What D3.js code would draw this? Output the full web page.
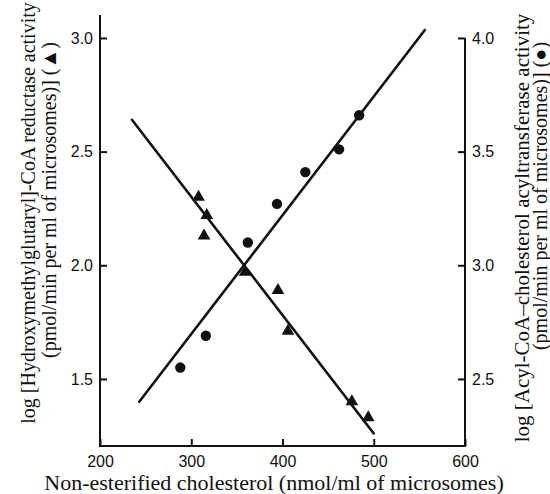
<!DOCTYPE html>
<html>
<head>
<meta charset="utf-8">
<script src="https://cdn.jsdelivr.net/npm/d3@7"></script>
<style>
body{margin:0;background:#fff;}
.tick text{font-family:"Liberation Sans",Arial,sans-serif;font-size:16px;fill:#111;}
.title{font-family:"Liberation Serif","Times New Roman",serif;fill:#111;}
</style>
</head>
<body>
<div id="chart"></div>
<script>
// HMG-CoA reductase (triangles, left axis)
const redX=[308,317,314,359,395,406,476,494];
const redY=[2.30,2.22,2.13,1.97,1.89,1.71,1.40,1.33];
// ACAT (circles, right axis)
const acatX=[288,316,362,394,425,462,484];
const acatY=[2.55,2.69,3.10,3.27,3.41,3.51,3.66];
// fitted lines: [x, y] end points
const redLine=[[235,2.64],[500,1.26]];
const acatLine=[[243,2.40],[556,4.035]];
const xTicks=[200,300,400,500,600];
const leftTicks=[1.5,2.0,2.5,3.0];
const rightTicks=[2.5,3.0,3.5,4.0];

const width=550,height=494;
const svg=d3.select("#chart").append("svg")
    .attr("width",width)
    .attr("height",height);

const x=d3.scaleLinear().domain([200,600]).range([100,465]);
const yL=d3.scaleLinear().domain([1.205,3.101]).range([446,15]);
const yR=d3.scaleLinear().domain([2.205,4.101]).range([446,15]);

// bottom axis
const xAxis=svg.append("g")
    .attr("transform","translate(0,446)")
    .call(d3.axisBottom(x).tickValues(xTicks).tickFormat(d3.format("d"))
        .tickSizeInner(-7).tickSizeOuter(0).tickPadding(10));
xAxis.select(".domain").remove();
xAxis.selectAll("line").attr("stroke","#111").attr("stroke-width",2);

// left axis
const lAxis=svg.append("g")
    .attr("transform","translate(100,0)")
    .call(d3.axisLeft(yL).tickValues(leftTicks).tickFormat(d3.format(".1f"))
        .tickSizeInner(-7).tickSizeOuter(0).tickPadding(7));
lAxis.select(".domain").remove();
lAxis.selectAll("line").attr("stroke","#111").attr("stroke-width",2);

// right axis
const rAxis=svg.append("g")
    .attr("transform","translate(465,0)")
    .call(d3.axisRight(yR).tickValues(rightTicks).tickFormat(d3.format(".1f"))
        .tickSizeInner(-7).tickSizeOuter(0).tickPadding(7));
rAxis.select(".domain").remove();
rAxis.selectAll("line").attr("stroke","#111").attr("stroke-width",2);

// frame lines
const frame=svg.append("g").attr("stroke","#111").attr("stroke-width",2).attr("fill","none");
frame.append("path").attr("d",`M100,${yL(3.101)}V446H465V${yR(4.0)}`);

// fitted lines
const line=svg.append("g").attr("stroke","#111").attr("stroke-width",2.6).attr("stroke-linecap","round");
line.append("line")
    .attr("x1",x(redLine[0][0])).attr("y1",yL(redLine[0][1]))
    .attr("x2",x(redLine[1][0])).attr("y2",yL(redLine[1][1]));
line.append("line")
    .attr("x1",x(acatLine[0][0])).attr("y1",yR(acatLine[0][1]))
    .attr("x2",x(acatLine[1][0])).attr("y2",yR(acatLine[1][1]));

// triangles
svg.append("g").selectAll("path")
    .data(redX.map((d,i)=>[d,redY[i]]))
    .join("path")
    .attr("d",d3.symbol(d3.symbolTriangle,70))
    .attr("transform",d=>`translate(${x(d[0])},${yL(d[1])})`)
    .attr("fill","#111");

// circles
svg.append("g").selectAll("circle")
    .data(acatX.map((d,i)=>[d,acatY[i]]))
    .join("circle")
    .attr("cx",d=>x(d[0]))
    .attr("cy",d=>yR(d[1]))
    .attr("r",5.2)
    .attr("fill","#111");

// titles
svg.append("text").attr("class","title")
    .attr("x",274).attr("y",490)
    .attr("text-anchor","middle")
    .style("font-size","22px")
    .text("Non-esterified cholesterol (nmol/ml of microsomes)");

svg.append("text").attr("class","title")
    .attr("transform","translate(35,213) rotate(-90)")
    .attr("text-anchor","middle")
    .style("font-size","20px")
    .text("log [Hydroxymethylglutaryl]-CoA reductase activity");
svg.append("text").attr("class","title")
    .attr("transform","translate(56,200) rotate(-90)")
    .attr("text-anchor","middle")
    .style("font-size","20px")
    .text("(pmol/min per ml of microsomes)] (\u25B2)");

svg.append("text").attr("class","title")
    .attr("transform","translate(529,228) rotate(-90)")
    .attr("text-anchor","middle")
    .style("font-size","21px")
    .text("log [Acyl-CoA\u2013cholesterol acyltransferase activity");
svg.append("text").attr("class","title")
    .attr("transform","translate(547,196) rotate(-90)")
    .attr("text-anchor","middle")
    .style("font-size","20px")
    .text("(pmol/min per ml of microsomes)] (\u25CF)");
</script>
</body>
</html>
